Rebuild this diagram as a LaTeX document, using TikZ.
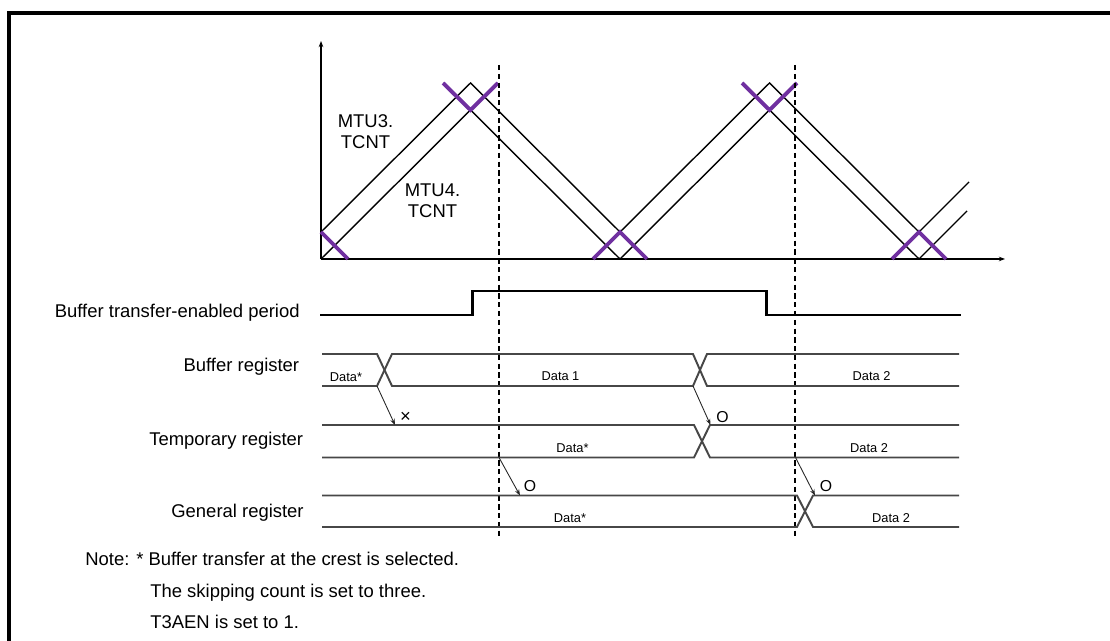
\documentclass[tikz,border=0pt]{standalone}
\usepackage{fontspec}
\setmainfont{Liberation Sans}
\usetikzlibrary{arrows.meta}

\definecolor{crestpurple}{RGB}{112,48,160}

\begin{document}
\begin{tikzpicture}[x=0.02cm, y=-0.02cm, >={Stealth[length=3.5pt,width=2.6pt]},
    every node/.style={font=\fontsize{10.5}{12}\selectfont, inner sep=0pt},
    counter/.style={black, line width=0.8pt},
    crestmark/.style={crestpurple, line width=2.2pt},
    sigline/.style={black!72, line width=1.1pt},
    datalabel/.style={font=\fontsize{7.3}{9}\selectfont, anchor=base},
    xferarrow/.style={->, black!85, line width=0.5pt},
    reglabel/.style={anchor=base east}]
                \useasboundingbox (0,0) rectangle (1110,641);
                \draw[line width=1.8pt] (9,641) -- (9,13) -- (1110,13);

                \coordinate (O) at (321,259);
                \draw[->, line width=0.6pt] (O) -- (321,41);
                \draw[->, line width=0.6pt] (O) -- (1005,259);

                \draw[counter] (321,232) -- (470.5,83) -- (620,232) -- (769.5,83) -- (919,232) -- (969,182);
                \draw[counter] (O) -- (470.5,110) -- (620,259) -- (769.5,110) -- (919,259) -- (967,211);

                \draw[crestmark] (321,232) -- (348,259);
                \draw[crestmark] (443,83) -- (470.5,110) -- (498,83);
                \draw[crestmark] (593,259) -- (620,232) -- (647,259);
                \draw[crestmark] (742,83) -- (769.5,110) -- (797,83);
                \draw[crestmark] (892,259) -- (919,232) -- (946,259);

                \node[align=center] (mtu3) at (365.5,132) {MTU3.\\TCNT};
                \node[align=center] (mtu4) at (432.5,201) {MTU4.\\TCNT};

                \draw[dashed, dash pattern=on 3pt off 2pt, line width=0.8pt] (499,65) -- (499,538);
                \draw[dashed, dash pattern=on 3pt off 2pt, line width=0.8pt] (795,65) -- (795,538);

                \draw[line width=1.6pt] (320,315) -- (472.5,315) -- (472.5,291) -- (766.5,291) -- (766.5,315) -- (961,315);

                \draw[sigline] (322,354) -- (377,354) -- (392,386) -- (693,386) -- (707,354) -- (959,354);
                \draw[sigline] (322,386) -- (377,386) -- (392,354) -- (693,354) -- (707,386) -- (959,386);
                \draw[sigline] (322,425) -- (694,425) -- (710,457.5) -- (959,457.5);
                \draw[sigline] (322,457.5) -- (694,457.5) -- (710,425) -- (959,425);
                \draw[sigline] (322,495.5) -- (797,495.5) -- (813,527) -- (959,527);
                \draw[sigline] (322,527) -- (797,527) -- (813,495.5) -- (959,495.5);

                \coordinate (buf1) at (377,386);
                \coordinate (tmp1) at (395,425);
                \coordinate (buf2) at (693,386);
                \coordinate (tmp2) at (710.5,425);
                \coordinate (tmp3) at (499,457.5);
                \coordinate (gen1) at (520,495.5);
                \coordinate (tmp4) at (795.5,457.5);
                \coordinate (gen2) at (815,495.5);

                \draw[xferarrow] (buf1) -- (tmp1);
                \draw[xferarrow] (buf2) -- (tmp2);
                \draw[xferarrow] (tmp3) -- (gen1);
                \draw[xferarrow] (tmp4) -- (gen2);
                \node (skip) at (405.5,417) {×};
                \node[font=\fontsize{9}{10}\selectfont] (ok1) at (722.5,417) {O};
                \node[font=\fontsize{9}{10}\selectfont] (ok2) at (530,486) {O};
                \node[font=\fontsize{9}{10}\selectfont] (ok3) at (826,486) {O};

                \node[datalabel] (bufd0) at (346,381.5) {Data*};
                \node[datalabel] (bufd1) at (560.5,381) {Data 1};
                \node[datalabel] (bufd2) at (871.5,381) {Data 2};
                \node[datalabel] (tmpd0) at (572.5,452.5) {Data*};
                \node[datalabel] (tmpd2) at (869,452.5) {Data 2};
                \node[datalabel] (gend0) at (570,522.5) {Data*};
                \node[datalabel] (gend2) at (891,522.5) {Data 2};

                \node[reglabel] (period) at (300,318) {Buffer transfer-enabled period};
                \node[reglabel] (bufreg) at (299.5,372) {Buffer register};
                \node[reglabel] (tmpreg) at (303.5,446) {Temporary register};
                \node[reglabel] (genreg) at (304,518) {General register};

                \node[anchor=base west] (note1) at (85,566) {Note: * Buffer transfer at the crest is selected.};
                \node[anchor=base west] (note2) at (150,597.5) {The skipping count is set to three.};
                \node[anchor=base west] (note3) at (150,629) {T3AEN is set to 1.};
            \end{tikzpicture}
\end{document}
